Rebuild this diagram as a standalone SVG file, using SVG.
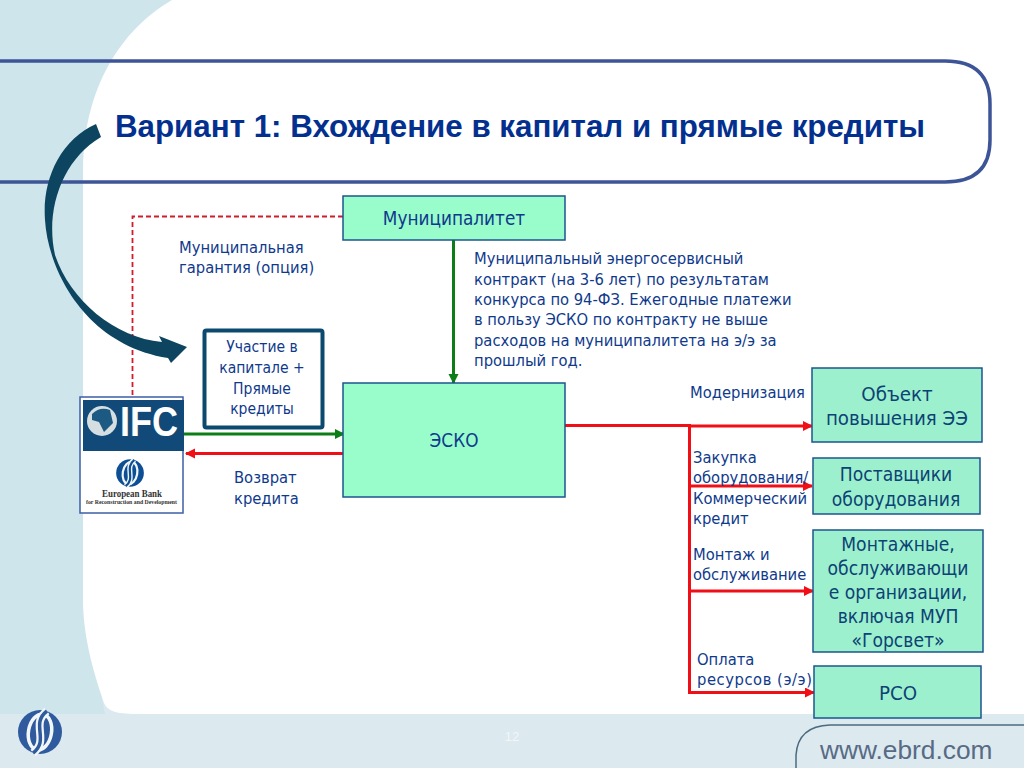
<svg xmlns="http://www.w3.org/2000/svg" width="1024" height="768" viewBox="0 0 1024 768">
<style>
.t{font-family:"DejaVu Sans Condensed","DejaVu Sans",sans-serif;font-stretch:condensed;fill:#0f3a8c;font-size:16.400px}
.c{text-anchor:middle}
.p{font-size:15.500px}
.b{font-size:20.300px;fill:#0d4275}
.s{font-size:19.100px}
.m{font-size:18.800px}
.box{fill:#9cf0cd;stroke:#1c5590;stroke-width:1.5}
.box2{fill:#99fccb;stroke:#1c5590;stroke-width:1.5}
.red{fill:none;stroke:#f00f16;stroke-width:3}
.green{fill:none;stroke:#0d7d18;stroke-width:3}
</style>
<defs>
<marker id="ar" markerUnits="userSpaceOnUse" markerWidth="12" markerHeight="12" refX="9" refY="5" orient="auto"><path d="M0,0L10,5L0,10Z" fill="#f00f16"/></marker>
<marker id="ag" markerUnits="userSpaceOnUse" markerWidth="12" markerHeight="12" refX="9" refY="5" orient="auto"><path d="M0,0L10,5L0,10Z" fill="#0d7d18"/></marker>
<g id="ebrdmark">
<circle r="22" fill="currentColor"/>
<ellipse rx="11.500" ry="18" transform="rotate(10)" fill="none" stroke="#f2f6f8" stroke-width="3.500"/>
<path d="M7,-21C-10,-8 10,8 -7,21" fill="none" stroke="#f2f6f8" stroke-width="8"/>
<path d="M7,-21C-10,-8 10,8 -7,21" fill="none" stroke="currentColor" stroke-width="3.500"/>
</g>
</defs>
<rect width="1024" height="768" fill="#dce9ef"/>
<path d="M0,0H172L83,170V600L105,714H0Z" fill="#cfe5ec"/>
<path d="M172,0H1024V714H140C118,714 108,712 104,703C96,680 83,640 83,600V170C83,90 120,30 172,0Z" fill="#fff"/>
<path d="M0,61H945Q990,61 990,104V140Q990,182 945,182H0" fill="none" stroke="#3d5597" stroke-width="3.500"/>
<text id="title" x="115" y="137" font-family="Liberation Sans,sans-serif" font-weight="700" font-size="31" fill="#03308f" textLength="810" lengthAdjust="spacingAndGlyphs">Вариант 1: Вхождение в капитал и прямые кредиты</text>
<g id="connectors">
<path d="M343,216.500H132.500V397" fill="none" stroke="#d01c2c" stroke-width="1.800" stroke-dasharray="5 3"/>
<path class="green" d="M453.500,240V383" marker-end="url(#ag)"/>
<path class="green" d="M184,434H344" marker-end="url(#ag)"/>
<path class="red" d="M343,453.500H186" marker-end="url(#ar)"/>
<path class="red" d="M565,425.500H689.500V692.500H814" marker-end="url(#ar)"/>
<path class="red" d="M689,426H812" marker-end="url(#ar)"/>
<path class="red" d="M689,486H812" marker-end="url(#ar)"/>
<path class="red" d="M689,591H813" marker-end="url(#ar)"/>
</g>
<g id="swoosh"><path d="M96,124C60,140 42,180 45,220C48,270 85,345 168,358L171,363L187,347L159,336L162,342C115,338 70,300 55,255C45,210 62,160 101,137Z" fill="#0d4560"/></g>
<g id="municipality"><rect class="box2" x="343" y="196" width="222" height="44"/><text class="t c m" x="454" y="225">Муниципалитет</text></g>
<g id="esco"><rect class="box2" x="343" y="383" width="222" height="114"/><text class="t c m" x="454" y="447">ЭСКО</text></g>
<g id="participation"><rect x="204.500" y="330.500" width="118" height="97" rx="2" fill="#fff" stroke="#0b4a6e" stroke-width="4"/>
<text class="t c p" x="262" y="352">Участие в</text><text class="t c p" x="262" y="373">капитале +</text><text class="t c p" x="262" y="394">Прямые</text><text class="t c p" x="262" y="414">кредиты</text></g>
<g id="lenders"><rect x="80" y="397" width="103" height="116" fill="#fff" stroke="#3d5fa5" stroke-width="1.500"/>
<rect x="83" y="400" width="101" height="51" fill="#114a78"/>
<circle cx="102" cy="421" r="15" fill="#d5dfe2"/><path d="M92,414Q100,406 110,410L113,423L104,432L99,422L92,420Z" fill="#1d5a83"/>
<text x="120" y="436" font-family="Liberation Sans,sans-serif" font-weight="700" font-size="42" fill="#fff" textLength="58" lengthAdjust="spacingAndGlyphs">IFC</text>
<use href="#ebrdmark" transform="translate(130,473) scale(.63)" color="#0d4f95"/>
<text x="102" y="497" font-family="Liberation Serif,serif" font-weight="700" font-size="9.500" fill="#333" textLength="60" lengthAdjust="spacingAndGlyphs">European Bank</text>
<text x="86" y="504" font-family="Liberation Serif,serif" font-weight="700" font-size="5.500" fill="#333" textLength="91" lengthAdjust="spacingAndGlyphs">for Reconstruction and Development</text></g>
<g id="labels">
<text class="t" x="179" y="253">Муниципальная</text><text class="t" x="179" y="273">гарантия (опция)</text>
<text class="t" x="474" y="264">Муниципальный энергосервисный</text>
<text class="t" x="474" y="285">контракт (на 3-6 лет) по результатам</text>
<text class="t" x="474" y="305">конкурса по 94-ФЗ. Ежегодные платежи</text>
<text class="t" x="474" y="325">в пользу ЭСКО по контракту не выше</text>
<text class="t" x="474" y="346">расходов на муниципалитета на э/э за</text>
<text class="t" x="474" y="366">прошлый год.</text>
<text class="t" x="234" y="483">Возврат</text><text class="t" x="234" y="504">кредита</text>
<text class="t" x="690" y="398">Модернизация</text>
<text class="t" x="693" y="463">Закупка</text><text class="t" x="693" y="483">оборудования/</text><text class="t" x="693" y="504">Коммерческий</text><text class="t" x="693" y="524">кредит</text>
<text class="t" x="693" y="560">Монтаж и</text><text class="t" x="693" y="580">обслуживание</text>
<text class="t" x="697" y="665">Оплата</text><text class="t" x="697" y="685" textLength="115">ресурсов (э/э)</text>
</g>
<g id="object"><rect class="box" x="812" y="368" width="170" height="74"/><text class="t c b" x="897" y="401">Объект</text><text class="t c b" x="897" y="425">повышения ЭЭ</text></g>
<g id="suppliers"><rect class="box" x="813" y="458" width="167" height="56"/><text class="t c b s" x="896" y="481">Поставщики</text><text class="t c b s" x="896" y="506">оборудования</text></g>
<g id="installers"><rect class="box" x="813" y="530" width="170" height="122"/><text class="t c b s" x="898" y="551">Монтажные,</text><text class="t c b s" x="898" y="575">обслуживающи</text><text class="t c b s" x="898" y="599">е организации,</text><text class="t c b s" x="898" y="623">включая МУП</text><text class="t c b s" x="898" y="647">«Горсвет»</text></g>
<g id="rso"><rect class="box" x="814" y="666" width="167" height="52"/><text class="t c b" x="898" y="700">РСО</text></g>
<g id="footer">
<use href="#ebrdmark" transform="translate(40,732)" color="#2f5b9e"/>
<text x="512" y="741" text-anchor="middle" font-family="Liberation Sans,sans-serif" font-size="13" fill="#f1f6f8">12</text>
<path d="M796,768V755Q798,726 830,725H1024" fill="none" stroke="#4c6a80" stroke-width="1.500"/>
<text x="820" y="759" font-family="Liberation Sans,sans-serif" font-size="26.300" fill="#586b85">www.ebrd.com</text>
</g>
</svg>
